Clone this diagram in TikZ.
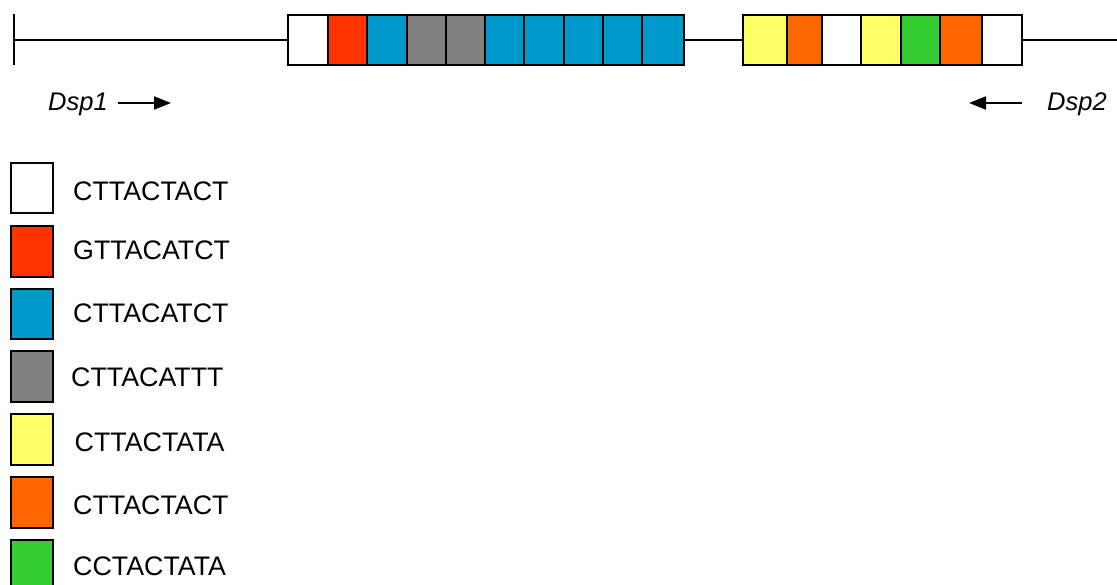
\documentclass[tikz,border=0pt]{standalone}
\usepackage{fontspec}
\setmainfont{Liberation Sans}
\usetikzlibrary{arrows.meta}
\definecolor{cwhite}{HTML}{FFFFFF}
\definecolor{cred}{HTML}{FF3300}
\definecolor{cblue}{HTML}{0099CC}
\definecolor{cgray}{HTML}{808080}
\definecolor{cyellow}{HTML}{FFFF66}
\definecolor{corange}{HTML}{FF6600}
\definecolor{cgreen}{HTML}{33CC33}
\tikzset{
  cell/.style={draw=black, line width=2pt, rectangle, inner sep=0pt, outer sep=0pt},
  backbone/.style={draw=black, line width=2pt},
  dirarrow/.style={draw=black, line width=2pt, -{Triangle[length=17pt,width=13pt]}},
  seqlabel/.style={inner sep=0pt, anchor=base west, font=\fontsize{26.8}{30}\selectfont},
  dsplabel/.style={inner sep=0pt, anchor=base west, font=\itshape\fontsize{25.5}{28}\selectfont}
}
\begin{document}
\begin{tikzpicture}[x=1pt,y=-1pt]
\useasboundingbox (0,0) rectangle (1117,585);
\clip (0,0) rectangle (1117,585);
% left tick and backbone
\coordinate (tickT) at (14,14);
\coordinate (tickB) at (14,65);
\coordinate (tickM) at (14,40);
\coordinate (rightEnd) at (1117,40);
\draw[backbone] (tickT) -- (tickB);
% first block of repeats
\foreach \l/\r/\c [count=\i] in {288.3/328.3/cwhite, 328.3/367.3/cred, 367.3/406.7/cblue, 406.7/445.7/cgray, 445.7/485/cgray, 485/524.3/cblue, 524.3/563.7/cblue, 563.7/602.7/cblue, 602.7/642.3/cblue, 642.3/684/cblue}{
  \pgfmathsetmacro\w{\r-\l}
  \pgfmathsetmacro\m{(\l+\r)/2}
  \node[cell, fill=\c, minimum width=\w pt, minimum height=50pt] (a\i) at (\m,40) {};
}
% second block of repeats
\foreach \l/\r/\c [count=\i] in {743/786.7/cyellow, 786.7/822/corange, 822/861.3/cwhite, 861.3/901/cyellow, 901/940.3/cgreen, 940.3/982.3/corange, 982.3/1021.7/cwhite}{
  \pgfmathsetmacro\w{\r-\l}
  \pgfmathsetmacro\m{(\l+\r)/2}
  \node[cell, fill=\c, minimum width=\w pt, minimum height=50pt] (b\i) at (\m,40) {};
}
\draw[backbone] (tickM) -- (a1.west);
\draw[backbone] (a10.east) -- (b1.west);
\draw[backbone] (b7.east) -- (rightEnd);
% primers
\node[dsplabel] (dsp1) at (48,111) {Dsp1};
\coordinate (d1s) at (118,103);
\coordinate (d1e) at (171,103);
\draw[dirarrow] (d1s) -- (d1e);
\node[dsplabel] (dsp2) at (1047,111) {Dsp2};
\coordinate (d2s) at (1022,103);
\coordinate (d2e) at (969,103);
\draw[dirarrow] (d2s) -- (d2e);
% legend
\foreach \t/\b/\c/\base/\tx/\s [count=\i] in {
  163/213/cwhite/201/73/CTTACTACT,
  226/277/cred/260/73/GTTACATCT,
  289/339/cblue/323/73/CTTACATCT,
  351/402/cgray/386/71/CTTACATTT,
  414/465/cyellow/451/74.5/CTTACTATA,
  477/528/corange/514/73/CTTACTACT,
  540/591/cgreen/575/73/CCTACTATA}{
  \pgfmathsetmacro\h{\b-\t}
  \pgfmathsetmacro\m{(\t+\b)/2}
  \node[cell, fill=\c, minimum width=42pt, minimum height=\h pt] (k\i) at (32,\m) {};
  \node[seqlabel] (s\i) at (\tx,\base) {\s};
}
\end{tikzpicture}
\end{document}
